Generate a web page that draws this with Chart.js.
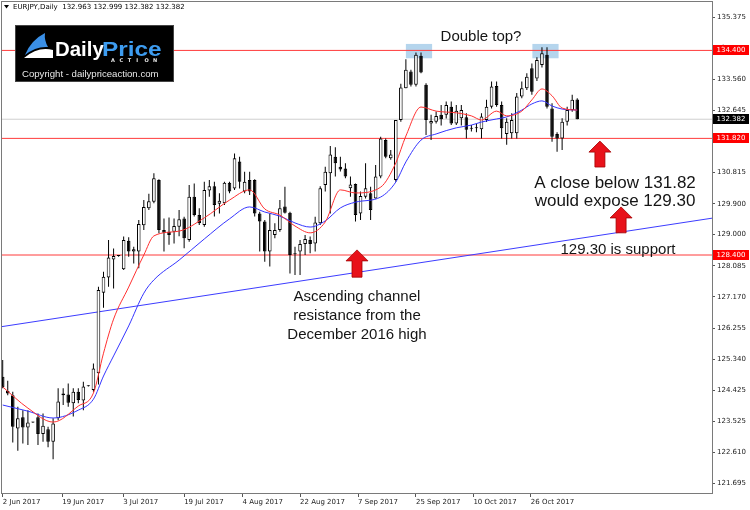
<!DOCTYPE html>
<html>
<head>
<meta charset="utf-8">
<script src="https://cdn.jsdelivr.net/npm/chart.js@4.4.1/dist/chart.umd.min.js"></script>
<style>
	html, body { margin: 0; padding: 0; background: #fff; }
	#wrap { width: 750px; height: 510px; }
</style>
</head>
<body>
<div id="wrap"><canvas id="chart" width="750" height="510"></canvas></div>
<script>
// EURJPY daily bars (bar 0 = 2 Jun 2017, last bar = current)
const opens = [124.83, 124.41, 124.29, 123.31, 123.64, 123.34, 123.49, 123.64, 123.15, 123.29,
	122.92, 123.61, 124.29, 124.31, 124.05, 124.39, 124.13, 124.55, 124.44, 124.93,
	127.29, 127.74, 128.27, 128.37, 127.98, 128.82, 128.50, 128.50, 129.27, 129.77,
	129.96, 130.60, 129.13, 129.08, 129.08, 129.23, 129.47, 128.84, 130.11, 129.57,
	129.28, 130.29, 130.42, 129.90, 129.92, 130.52, 130.35, 131.14, 130.26, 130.60,
	130.60, 129.62, 129.38, 128.50, 128.99, 129.13, 129.82, 129.64, 128.45, 128.50,
	128.72, 128.84, 128.74, 129.33, 130.45, 130.80, 131.28, 130.99, 130.94, 130.36,
	130.48, 129.62, 130.11, 130.21, 130.06, 130.70, 131.77, 131.24, 130.60, 132.36,
	133.29, 133.78, 133.39, 134.24, 133.39, 132.26, 132.31, 132.51, 132.51, 132.75,
	132.26, 132.41, 132.44, 132.12, 132.14, 132.09, 132.36, 132.75, 133.36, 132.80,
	131.95, 131.97, 131.97, 133.05, 133.29, 133.88, 133.58, 133.97, 134.27, 132.70,
	131.95, 131.82, 132.31, 132.65, 132.963];
const highs = [125.32, 124.71, 124.39, 123.95, 123.85, 123.85, 123.51, 123.75, 123.75, 123.36,
	123.61, 124.49, 124.49, 124.63, 124.49, 124.49, 124.68, 124.58, 125.22, 127.47,
	127.91, 128.84, 128.59, 128.39, 128.94, 128.92, 128.64, 129.43, 130.01, 130.20,
	130.80, 130.62, 129.47, 129.50, 129.47, 129.72, 129.52, 130.45, 130.50, 129.77,
	130.55, 130.60, 130.55, 130.21, 130.55, 130.55, 131.38, 131.28, 130.84, 130.84,
	130.62, 129.67, 129.43, 129.62, 129.33, 130.01, 130.40, 129.67, 128.64, 128.84,
	128.99, 128.94, 129.52, 130.42, 130.99, 131.60, 131.56, 131.28, 131.09, 130.70,
	130.50, 130.26, 131.09, 130.40, 131.04, 131.87, 131.82, 131.48, 132.36, 133.42,
	134.14, 133.83, 134.34, 134.34, 133.44, 132.51, 132.61, 132.80, 132.90, 132.90,
	132.80, 132.80, 132.56, 132.21, 132.26, 132.56, 132.95, 133.49, 133.49, 132.90,
	132.41, 132.56, 133.15, 133.49, 133.73, 134.02, 134.20, 134.49, 134.49, 132.85,
	132.00, 132.41, 132.75, 133.10, 132.999];
const lows = [124.49, 124.29, 122.90, 122.66, 122.87, 122.83, 123.47, 122.83, 122.92, 122.76,
	122.41, 123.56, 124.00, 123.95, 123.66, 124.05, 123.85, 124.54, 124.39, 124.60,
	126.85, 127.47, 127.42, 128.35, 127.96, 128.35, 128.15, 128.01, 129.13, 129.72,
	129.92, 129.04, 128.50, 128.70, 128.74, 128.95, 128.60, 128.79, 129.53, 129.28,
	129.23, 130.11, 129.53, 129.62, 129.87, 130.21, 130.31, 130.35, 130.21, 130.16,
	129.53, 128.50, 128.20, 128.06, 128.89, 129.08, 129.62, 127.86, 127.81, 127.81,
	128.40, 128.45, 128.50, 129.28, 130.26, 129.62, 130.70, 130.85, 130.65, 130.11,
	129.38, 129.43, 130.06, 129.43, 130.06, 130.65, 131.24, 131.19, 130.55, 132.31,
	133.29, 133.34, 133.34, 133.73, 131.92, 131.77, 132.26, 132.20, 132.40, 132.21,
	132.21, 132.20, 131.82, 132.02, 132.00, 131.82, 132.30, 132.70, 132.75, 131.82,
	131.63, 131.82, 131.82, 133.00, 133.24, 133.10, 133.50, 133.90, 132.70, 131.72,
	131.43, 131.48, 132.20, 132.60, 132.382];
const closes = [124.52, 124.34, 123.36, 123.61, 123.34, 123.49, 123.50, 123.15, 123.39, 122.92,
	123.46, 124.10, 124.34, 124.07, 124.39, 124.15, 124.54, 124.57, 125.07, 127.37,
	127.76, 128.33, 128.37, 128.38, 128.84, 128.50, 128.57, 129.31, 129.81, 129.98,
	130.65, 129.13, 129.05, 128.99, 129.25, 129.45, 128.89, 130.11, 129.57, 129.33,
	130.31, 130.42, 129.87, 129.99, 130.52, 130.26, 131.24, 130.55, 130.55, 130.26,
	129.62, 129.38, 128.50, 129.13, 129.13, 129.77, 129.64, 128.40, 128.42, 128.72,
	128.87, 128.72, 129.35, 130.36, 130.84, 131.35, 131.09, 130.91, 130.70, 130.47,
	129.57, 130.13, 130.36, 129.72, 130.70, 131.82, 131.28, 131.35, 132.36, 133.31,
	133.83, 133.39, 134.27, 133.75, 132.36, 132.33, 132.48, 132.38, 132.80, 132.26,
	132.63, 132.65, 132.07, 132.10, 132.12, 132.46, 132.75, 133.34, 132.80, 132.12,
	132.31, 132.36, 133.05, 133.29, 133.63, 133.19, 134.12, 134.32, 132.75, 131.87,
	131.82, 132.31, 132.65, 132.95, 132.382];

// moving averages, sampled at these bars
const maBars = [0, 5, 10, 15, 18, 20, 22, 25, 28, 30, 35, 40, 45, 49, 52, 55, 58, 61, 64, 67,
	70, 75, 78, 80, 83, 86, 90, 93, 95, 98, 100, 103, 105, 107, 109, 111, 114];
const fastMa = [124.53, 123.91, 123.50, 123.97, 124.35, 125.52, 126.52, 127.46, 128.40, 128.96,
	129.10, 129.49, 130.01, 130.31, 129.75, 129.57, 129.25, 129.05, 129.37, 130.31,
	130.22, 130.39, 131.10, 131.89, 132.74, 132.62, 132.57, 132.48, 132.36, 132.62,
	132.48, 132.62, 132.95, 133.27, 133.07, 132.71, 132.65];
const slowMa = [124.00, 123.82, 123.62, 123.85, 124.17, 124.85, 125.44, 126.32, 127.28, 127.67,
	128.25, 128.87, 129.46, 129.81, 129.66, 129.54, 129.34, 129.22, 129.40, 129.78,
	129.95, 130.10, 130.54, 131.13, 131.77, 131.95, 132.13, 132.21, 132.30, 132.39,
	132.45, 132.65, 132.83, 132.92, 132.77, 132.68, 132.65];

const levelPrices = [134.400, 131.820, 128.400];
const lastPrice = 132.382;
const trendBars = [-0.14, 140.74];
const trendPrices = [126.30, 129.48];

const yTickValues = [135.375, 134.475, 133.560, 132.645, 131.730, 130.815, 129.900, 129.000,
	128.085, 127.170, 126.255, 125.340, 124.425, 123.525, 122.610, 121.695];
const dateTickBars = [0, 11.8, 23.9, 36, 47.6, 59, 70.5, 82, 93.4, 104.8];
const dateTickLabels = ['2 Jun 2017', '19 Jun 2017', '3 Jul 2017', '19 Jul 2017', '4 Aug 2017',
	'22 Aug 2017', '7 Sep 2017', '25 Sep 2017', '10 Oct 2017', '26 Oct 2017'];

const topZoneBars = [[80.0, 85.2], [105.1, 110.3]];
const topZonePrices = [134.17, 134.59];
const arrowBars = [70.3, 118.5, 122.7];
const arrowTips = [128.55, 131.74, 129.81];
const arrowBases = [127.75, 130.98, 129.05];

const X_MIN = -0.14, X_MAX = 140.74;
const smallFont = '7px "DejaVu Sans"';

const wickData = opens.map((_, i) => ({ x: i, y: [lows[i], highs[i]] }));
const bodyData = opens.map((o, i) => ({ x: i, y: [o, closes[i]] }));
const bodyColors = opens.map((o, i) => closes[i] >= o ? '#ffffff' : '#000000');

function flatLine(v) {
	return [{ x: X_MIN, y: v }, { x: X_MAX, y: v }];
}

const datasets = [];
levelPrices.forEach(v => {
	datasets.push({ type: 'line', data: flatLine(v), borderColor: '#ff3b3b', borderWidth: 1, pointRadius: 0, order: 10 });
});
datasets.push({ type: 'line', data: flatLine(lastPrice), borderColor: '#cfcfcf', borderWidth: 1, pointRadius: 0, order: 11 });
datasets.push({
	type: 'line',
	data: trendBars.map((b, i) => ({ x: b, y: trendPrices[i] })),
	borderColor: '#3c3cff', borderWidth: 1, pointRadius: 0, order: 9
});
datasets.push({
	type: 'bar', data: wickData, backgroundColor: '#000', borderWidth: 0,
	barThickness: 1, grouped: false, inflateAmount: 0, order: 4
});
datasets.push({
	type: 'bar', data: bodyData, backgroundColor: bodyColors, borderColor: '#000', borderWidth: 1,
	borderSkipped: false, barThickness: 3.6, minBarLength: 1, grouped: false, inflateAmount: 0, order: 3
});
datasets.push({
	type: 'line', data: maBars.map((b, i) => ({ x: b, y: fastMa[i] })),
	borderColor: '#ff3030', borderWidth: 1, pointRadius: 0, cubicInterpolationMode: 'monotone', order: 1
});
datasets.push({
	type: 'line', data: maBars.map((b, i) => ({ x: b, y: slowMa[i] })),
	borderColor: '#3535ff', borderWidth: 1, pointRadius: 0, cubicInterpolationMode: 'monotone', order: 2
});

function drawArrow(ctx, cx, tip, base) {
	ctx.beginPath();
	ctx.moveTo(cx, tip);
	ctx.lineTo(cx + 11, tip + 11);
	ctx.lineTo(cx + 5, tip + 11);
	ctx.lineTo(cx + 5, base);
	ctx.lineTo(cx - 5, base);
	ctx.lineTo(cx - 5, tip + 11);
	ctx.lineTo(cx - 11, tip + 11);
	ctx.closePath();
	ctx.fillStyle = '#e8121a';
	ctx.fill();
	ctx.strokeStyle = '#a30000';
	ctx.lineWidth = 0.8;
	ctx.stroke();
}

function drawLogo(ctx) {
	ctx.fillStyle = '#000';
	ctx.fillRect(15, 25, 159, 57);
	ctx.strokeStyle = '#444';
	ctx.lineWidth = 1;
	ctx.strokeRect(15.5, 25.5, 158, 56);

	// swoosh
	ctx.fillStyle = '#3a8fe6';
	ctx.beginPath();
	ctx.moveTo(25, 55);
	ctx.quadraticCurveTo(31, 40, 45, 33);
	ctx.quadraticCurveTo(44, 40, 48, 47);
	ctx.quadraticCurveTo(36, 46, 25, 55);
	ctx.fill();
	ctx.fillStyle = '#ffffff';
	ctx.beginPath();
	ctx.moveTo(24, 58);
	ctx.quadraticCurveTo(38, 46, 53, 50);
	ctx.lineTo(53, 58);
	ctx.closePath();
	ctx.fill();

	ctx.textBaseline = 'alphabetic';
	ctx.textAlign = 'left';
	ctx.save();
	ctx.translate(55, 56);
	ctx.scale(1.02, 1);
	ctx.font = 'bold 20px "Liberation Sans"';
	ctx.fillStyle = '#ffffff';
	ctx.fillText('Daily', 0, 0);
	ctx.restore();
	ctx.save();
	ctx.translate(102, 56);
	ctx.scale(1.22, 1);
	ctx.font = 'bold 20px "Liberation Sans"';
	ctx.fillStyle = '#3d9cf0';
	ctx.fillText('Price', 0, 0);
	ctx.restore();

	ctx.font = 'bold 5px "DejaVu Sans"';
	ctx.fillStyle = '#e6e6e6';
	'ACTION'.split('').forEach((ch, k) => ctx.fillText(ch, 111 + k * 8.4, 62));

	ctx.font = '9.6px "Liberation Sans"';
	ctx.fillStyle = '#e8e8e8';
	ctx.fillText('Copyright - dailypriceaction.com', 22, 77, 146);
}

const decorPlugin = {
	id: 'decor',
	beforeDraw(chart) {
		const ctx = chart.ctx;
		ctx.save();
		ctx.fillStyle = '#fff';
		ctx.fillRect(0, 0, chart.width, chart.height);
		ctx.restore();
	},
	beforeDatasetsDraw(chart) {
		const ctx = chart.ctx, x = chart.scales.x, y = chart.scales.y;
		ctx.save();
		ctx.fillStyle = 'rgba(168, 206, 234, 0.85)';
		topZoneBars.forEach(([a, b]) => {
			const x0 = x.getPixelForValue(a), x1 = x.getPixelForValue(b);
			const y0 = y.getPixelForValue(topZonePrices[1]), y1 = y.getPixelForValue(topZonePrices[0]);
			ctx.fillRect(x0, y0, x1 - x0, y1 - y0);
		});
		ctx.restore();
	},
	afterDraw(chart) {
		const ctx = chart.ctx, x = chart.scales.x, y = chart.scales.y, a = chart.chartArea;
		ctx.save();

		// frame
		ctx.strokeStyle = '#7a7a7a';
		ctx.lineWidth = 1;
		ctx.strokeRect(Math.round(a.left) - 0.5, Math.round(a.top) - 0.5, Math.round(a.right - a.left) + 1, Math.round(a.bottom - a.top) + 1);

		// price tags on the axis
		ctx.font = smallFont;
		ctx.textBaseline = 'middle';
		ctx.textAlign = 'left';
		const tag = (v, bg) => {
			const py = Math.round(y.getPixelForValue(v));
			ctx.fillStyle = bg;
			ctx.fillRect(713, py - 5, 36, 10);
			ctx.fillStyle = '#fff';
			ctx.fillText(v.toFixed(3), 716.5, py + 0.5);
		};
		levelPrices.forEach(v => tag(v, '#ff0000'));
		tag(lastPrice, '#000000');

		// header
		ctx.fillStyle = '#000';
		ctx.beginPath();
		ctx.moveTo(4, 5); ctx.lineTo(9, 5); ctx.lineTo(6.5, 8.5); ctx.closePath();
		ctx.fill();
		ctx.font = smallFont;
		ctx.fillText('EURJPY,Daily  132.963 132.999 132.382 132.382', 13, 7.5);

		drawLogo(ctx);

		// arrows
		arrowBars.forEach((b, i) => {
			drawArrow(ctx, x.getPixelForValue(b), y.getPixelForValue(arrowTips[i]), y.getPixelForValue(arrowBases[i]));
		});

		// notes
		ctx.fillStyle = '#151515';
		ctx.textAlign = 'center';
		ctx.textBaseline = 'middle';
		ctx.font = '15px "Liberation Sans"';
		ctx.fillText('Double top?', 481, 37);
		ctx.fillText('129.30 is support', 618, 250);
		ctx.fillText('Ascending channel', 357, 297);
		ctx.fillText('resistance from the', 357, 316);
		ctx.fillText('December 2016 high', 357, 335);
		ctx.font = '17px "Liberation Sans"';
		ctx.fillText('A close below 131.82', 615, 183);
		ctx.fillText('would expose 129.30', 615, 201);
		ctx.restore();
	}
};

new Chart(document.getElementById('chart'), {
	type: 'bar',
	data: { datasets: datasets },
	options: {
		responsive: false,
		animation: false,
		events: [],
		layout: { padding: { left: 2, top: 2, right: 0, bottom: 0 } },
		plugins: { legend: { display: false }, tooltip: { enabled: false } },
		scales: {
			x: {
				type: 'linear',
				position: 'bottom',
				min: X_MIN,
				max: X_MAX,
				offset: false,
				border: { display: false },
				grid: { drawOnChartArea: false, drawTicks: true, tickLength: 4, color: '#555', offset: false },
				afterBuildTicks: scale => { scale.ticks = dateTickBars.map(v => ({ value: v })); },
				afterFit: scale => {
					scale.height = 17;
					scale.paddingLeft = 0;
					scale.paddingRight = 0;
				},
				ticks: {
					autoSkip: false, maxRotation: 0, align: 'start', padding: 1,
					color: '#222', font: { family: 'DejaVu Sans', size: 7 },
					callback: (v, i) => dateTickLabels[i]
				}
			},
			y: {
				type: 'linear',
				position: 'right',
				min: 121.42,
				max: 135.82,
				border: { display: false },
				grid: { drawOnChartArea: false, drawTicks: true, tickLength: 3, color: '#555' },
				afterBuildTicks: scale => { scale.ticks = yTickValues.map(v => ({ value: v })); },
				afterFit: scale => {
					scale.width = 38;
					scale.paddingTop = 0;
					scale.paddingBottom = 0;
				},
				ticks: {
					autoSkip: false, padding: 2,
					color: '#222', font: { family: 'DejaVu Sans', size: 7 },
					callback: v => v.toFixed(3)
				}
			}
		}
	},
	plugins: [decorPlugin]
});
</script>
</body>
</html>
